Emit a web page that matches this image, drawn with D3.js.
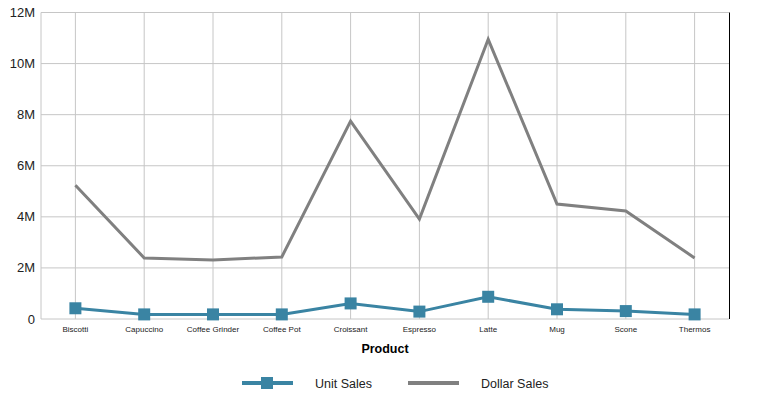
<!DOCTYPE html>
<meta charset="utf-8">
<style>
body { margin: 0; background: #fff; }
text { font-family: "Liberation Sans", Arial, sans-serif; }
</style>
<body>
<script src="https://cdn.jsdelivr.net/npm/d3@7"></script>
<script>

var products = ["Biscotti", "Capuccino", "Coffee Grinder", "Coffee Pot", "Croissant",
                "Espresso", "Latte", "Mug", "Scone", "Thermos"];
var unitSales = [420000, 180000, 180000, 180000, 610000, 290000, 870000, 380000, 310000, 180000];
var dollarSales = [5240000, 2390000, 2310000, 2430000, 7750000, 3910000, 10950000, 4500000, 4230000, 2390000];
var yTicks = [0, 2000000, 4000000, 6000000, 8000000, 10000000, 12000000];

var width = 770,
    height = 405,
    plotLeft = 41,
    plotRight = 729,
    plotTop = 12.5,
    plotBottom = 319;

var svg = d3.select("body").append("svg")
    .attr("width", width)
    .attr("height", height);

var x = d3.scalePoint()
    .domain(products)
    .range([plotLeft, plotRight])
    .padding(0.5);

var y = d3.scaleLinear()
    .domain([0, 12000000])
    .range([plotBottom, plotTop]);

// grid
svg.append("g").selectAll("line")
    .data(yTicks)
  .enter().append("line")
    .attr("x1", plotLeft).attr("x2", plotRight)
    .attr("y1", function(d) { return y(d); })
    .attr("y2", function(d) { return y(d); })
    .attr("stroke", "#c6c6c6");

svg.append("g").selectAll("line")
    .data(products)
  .enter().append("line")
    .attr("x1", function(d) { return x(d); })
    .attr("x2", function(d) { return x(d); })
    .attr("y1", plotTop).attr("y2", plotBottom)
    .attr("stroke", "#c6c6c6");

svg.append("line")
    .attr("x1", plotLeft).attr("x2", plotLeft)
    .attr("y1", plotTop).attr("y2", plotBottom)
    .attr("stroke", "#c6c6c6");

svg.append("line")
    .attr("x1", plotRight + 0.5).attr("x2", plotRight + 0.5)
    .attr("y1", plotTop).attr("y2", plotBottom)
    .attr("stroke", "#000")
    .attr("stroke-width", 1);

// y labels
svg.append("g").selectAll("text")
    .data(yTicks)
  .enter().append("text")
    .attr("x", 35)
    .attr("y", function(d) { return y(d) + 4.5; })
    .attr("text-anchor", "end")
    .attr("font-size", 13)
    .attr("fill", "#222")
    .text(function(d) { return d === 0 ? "0" : d / 1e6 + "M"; });

// x labels
svg.append("g").selectAll("text")
    .data(products)
  .enter().append("text")
    .attr("x", function(d) { return x(d); })
    .attr("y", 332)
    .attr("text-anchor", "middle")
    .attr("font-size", 8)
    .attr("fill", "#222")
    .text(function(d) { return d; });

svg.append("text")
    .attr("x", (plotLeft + plotRight) / 2)
    .attr("y", 353)
    .attr("text-anchor", "middle")
    .attr("font-size", 12.5)
    .attr("font-weight", "bold")
    .text("Product");

var line = function(values) {
  return d3.line()
      .x(function(d, i) { return x(products[i]); })
      .y(function(d) { return y(d); })(values);
};

svg.append("path")
    .attr("d", line(dollarSales))
    .attr("fill", "none")
    .attr("stroke", "#808080")
    .attr("stroke-width", 3);

svg.append("path")
    .attr("d", line(unitSales))
    .attr("fill", "none")
    .attr("stroke", "#3a84a3")
    .attr("stroke-width", 3);

svg.append("g").selectAll("rect")
    .data(unitSales)
  .enter().append("rect")
    .attr("x", function(d, i) { return x(products[i]) - 6; })
    .attr("y", function(d) { return y(d) - 6; })
    .attr("width", 12)
    .attr("height", 12)
    .attr("fill", "#3a84a3");

// legend
var legend = svg.append("g");

legend.append("line")
    .attr("x1", 242).attr("x2", 293)
    .attr("y1", 383).attr("y2", 383)
    .attr("stroke", "#3a84a3")
    .attr("stroke-width", 4);
legend.append("rect")
    .attr("x", 261).attr("y", 377)
    .attr("width", 12).attr("height", 12)
    .attr("fill", "#3a84a3");
legend.append("text")
    .attr("x", 315).attr("y", 388)
    .attr("font-size", 12.5)
    .attr("fill", "#222")
    .text("Unit Sales");

legend.append("line")
    .attr("x1", 408).attr("x2", 459)
    .attr("y1", 383).attr("y2", 383)
    .attr("stroke", "#808080")
    .attr("stroke-width", 4);
legend.append("text")
    .attr("x", 481).attr("y", 388)
    .attr("font-size", 12.5)
    .attr("fill", "#222")
    .text("Dollar Sales");

</script>
